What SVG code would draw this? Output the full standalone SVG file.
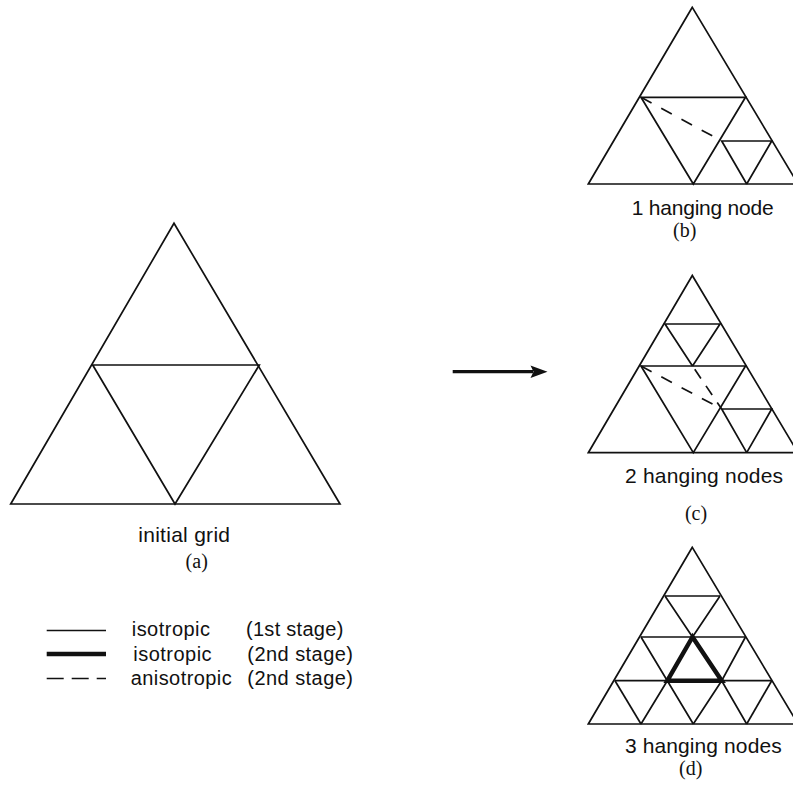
<svg xmlns="http://www.w3.org/2000/svg" width="793" height="793" viewBox="0 0 793 793">
<defs>
<style>
.ln{fill:none;stroke:#111;stroke-width:1.7;stroke-linejoin:miter;stroke-linecap:butt}
.th{fill:none;stroke:#111;stroke-width:4.5;stroke-linejoin:miter}
.ds{fill:none;stroke:#111;stroke-width:1.7;stroke-dasharray:12 11}
.lab{font-family:"Liberation Sans",Arial,Helvetica,sans-serif;font-size:21px;fill:#111}
.leg{font-family:"Liberation Sans",Arial,Helvetica,sans-serif;font-size:20px;fill:#111}
.cap{font-family:"Liberation Serif","Times New Roman",serif;font-size:20px;fill:#111;text-anchor:middle}
</style>
</defs>
<rect width="793" height="793" fill="#fff"/>

<g id="panel-a">
<polygon class="ln" points="174,223.3 10.7,504 340,504"/>
<polygon class="ln" points="92.7,365 259.3,365 175,504"/>
<text class="lab" x="138.3" y="541.7" textLength="91.7">initial grid</text>
<text class="cap" x="196.7" y="567.5">(a)</text>
</g>

<g id="panel-b">
<polygon class="ln" points="692.3,7.3 588.3,184 798,184"/>
<polygon class="ln" points="641,97.3 745.5,97.3 693.3,184"/>
<polyline class="ln" points="746.7,184 721.7,141 771.7,141 746.7,184"/>
<line class="ds" x1="641" y1="97.3" x2="721.7" y2="141"/>
<text class="lab" x="631.7" y="214.7" textLength="142">1 hanging node</text>
<text class="cap" x="684.7" y="237">(b)</text>
</g>

<g id="panel-c">
<polygon class="ln" points="692.3,275.5 588.3,452.7 798,452.7"/>
<polygon class="ln" points="641,366 745.5,366 693.3,452.7"/>
<polyline class="ln" points="692.5,366 665,324 720,324 692.5,366"/>
<polyline class="ln" points="746.7,452.7 721.7,409 771.7,409 746.7,452.7"/>
<line class="ds" x1="641" y1="366" x2="721.7" y2="409"/>
<line class="ds" x1="692.5" y1="366" x2="721.7" y2="409" style="stroke-dasharray:11 9;stroke-dashoffset:-4"/>
<text class="lab" x="625" y="482.7" textLength="158">2 hanging nodes</text>
<text class="cap" x="696" y="520">(c)</text>
</g>

<g id="panel-d">
<polygon class="ln" points="692.3,547.3 588.3,724 798,724"/>
<line class="ln" x1="665" y1="596" x2="720" y2="596"/>
<line class="ln" x1="641" y1="637" x2="745.5" y2="637"/>
<line class="ln" x1="615" y1="680.7" x2="771.7" y2="680.7"/>
<polyline class="ln" points="665,596 692.5,637 721.7,680.7 746.7,724"/>
<polyline class="ln" points="641,637 667.3,680.7 693.3,724"/>
<polyline class="ln" points="615,680.7 641,724"/>
<polyline class="ln" points="720,596 692.5,637 667.3,680.7 641,724"/>
<polyline class="ln" points="745.5,637 721.7,680.7 693.3,724"/>
<polyline class="ln" points="771.7,680.7 746.7,724"/>
<polygon class="th" points="692.5,637 667.3,680.7 721.7,680.7"/>
<text class="lab" x="625" y="752.7" textLength="156.7">3 hanging nodes</text>
<text class="cap" x="690.7" y="775">(d)</text>
</g>

<g id="connectors">
<line x1="452.7" y1="371.7" x2="533" y2="371.7" stroke="#111" stroke-width="3.2"/>
<polygon points="530.5,365.5 547.5,371.7 530.5,378 533.5,371.7" fill="#111"/>
</g>

<g id="legend">
<line class="ln" x1="46.7" y1="630.5" x2="106" y2="630.5"/>
<line x1="46.7" y1="654" x2="106" y2="654" stroke="#111" stroke-width="4.5"/>
<line x1="46.7" y1="678.5" x2="106" y2="678.5" stroke="#111" stroke-width="1.7" stroke-dasharray="17 8"/>
<text class="leg" x="131.7" y="636" textLength="78.3">isotropic</text>
<text class="leg" x="246" y="636" textLength="97.3">(1st stage)</text>
<text class="leg" x="133.3" y="660.5" textLength="78.3">isotropic</text>
<text class="leg" x="247.3" y="660.5" textLength="105.7">(2nd stage)</text>
<text class="leg" x="130.7" y="684.5" textLength="101">anisotropic</text>
<text class="leg" x="247.3" y="684.5" textLength="105.7">(2nd stage)</text>
</g>
</svg>
